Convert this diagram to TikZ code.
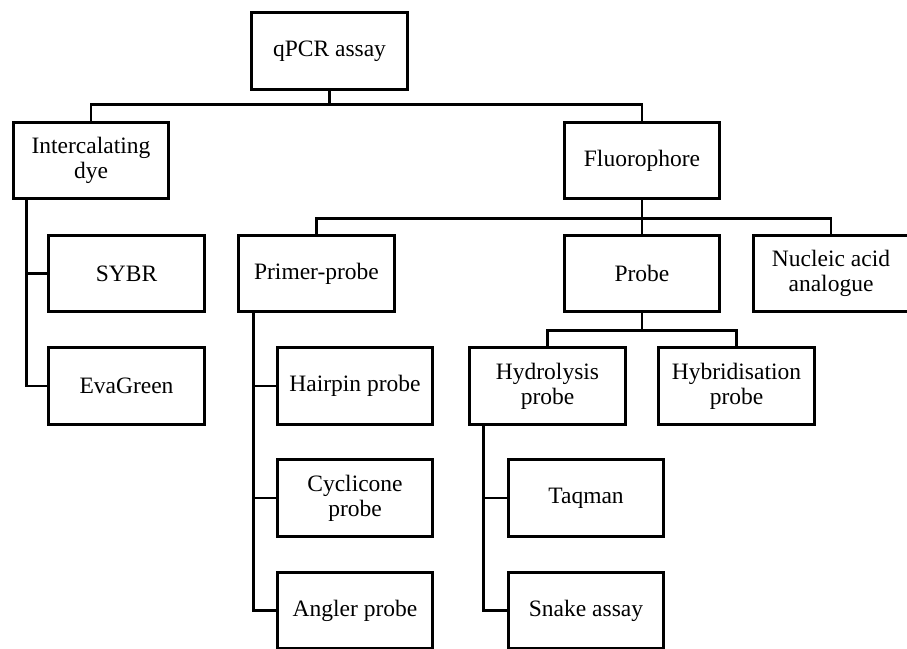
\documentclass[tikz,border=0pt]{standalone}
\usepackage{fontspec}
\setmainfont{Liberation Serif}

\begin{document}
\begin{tikzpicture}[x=1pt,y=-1pt,line width=2.8pt,
    box/.style={rectangle,draw,minimum width=155.5pt,minimum height=76.5pt,inner sep=2pt,
                align=center,font=\fontsize{23.5}{25}\selectfont}]
\useasboundingbox (0,0) rectangle (907,648);
\node (qpcr)       at (329.5,51)  [box] {qPCR assay};
\node (intercal)   at (91,160.5)  [box] {Intercalating\\dye};
\node (fluoro)     at (642,160.5) [box] {Fluorophore};
\node (sybr)       at (126.5,273.5) [box] {SYBR};
\node (evagreen)   at (126.5,386) [box] {EvaGreen};
\node (primer)     at (316.5,273.5) [box] {Primer-probe};
\node (probe)      at (642,273.5) [box] {Probe};
\node (nucleic)    at (831,273.5) [box] {Nucleic acid\\analogue};
\node (hairpin)    at (355,386)   [box] {Hairpin probe};
\node (cyclicone)  at (355,498)   [box] {Cyclicone\\probe};
\node (angler)     at (355,610.5) [box] {Angler probe};
\node (hydrolysis) at (547.5,386) [box] {Hydrolysis\\probe};
\node (hybrid)     at (736.5,386) [box] {Hybridisation\\probe};
\node (taqman)     at (586,498)   [box] {Taqman};
\node (snake)      at (586,610.5) [box] {Snake assay};
\draw (qpcr.south) -- ++(0,14) -| (intercal.north);
\draw (qpcr.south) -- ++(0,14) -| (fluoro.north);
\draw (fluoro.south) -- ++(0,18) -| (primer.north);
\draw (fluoro.south) -- (probe.north);
\draw (fluoro.south) -- ++(0,18) -| (nucleic.north);
\draw (probe.south) -- ++(0,17) -| (hydrolysis.north);
\draw (probe.south) -- ++(0,17) -| (hybrid.north);
\draw ([xshift=15pt]intercal.south west) |- (sybr.west);
\draw ([xshift=15pt]intercal.south west) |- (evagreen.west);
\draw ([xshift=16pt]primer.south west) |- (hairpin.west);
\draw ([xshift=16pt]primer.south west) |- (cyclicone.west);
\draw ([xshift=16pt]primer.south west) |- (angler.west);
\draw ([xshift=15pt]hydrolysis.south west) |- (taqman.west);
\draw ([xshift=15pt]hydrolysis.south west) |- (snake.west);
\end{tikzpicture}
\end{document}
